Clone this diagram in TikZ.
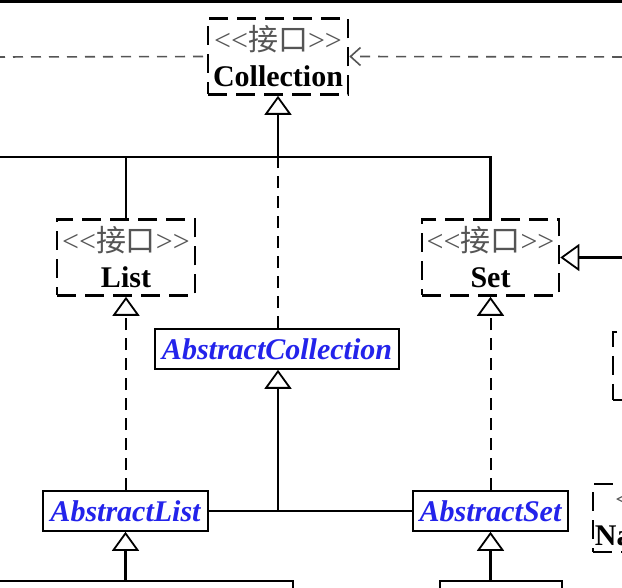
\documentclass[tikz,border=0pt]{standalone}
\usepackage{fontspec}
\setmainfont{Liberation Serif}
\newfontfamily\cjk{Noto Sans CJK SC}
\usetikzlibrary{arrows.meta}
\definecolor{absblue}{RGB}{35,35,235}
\definecolor{igray}{RGB}{85,85,85}
\newcommand{\ifacetext}[1]{{\color{igray}<\kern0pt<{\cjk 接口}>\kern0pt>}\\\textbf{#1}}
\begin{document}
\begin{tikzpicture}[x=1pt,y=-1pt,
  iface/.style={draw, line width=2.6pt, dash pattern=on 19pt off 9pt, align=center,
    font=\fontsize{30}{36}\selectfont, inner sep=0pt, minimum height=76pt},
  absbox/.style={draw, line width=1.6pt, font=\fontsize{30}{36}\selectfont\bfseries\itshape,
    text=absblue, inner sep=0pt, minimum height=40pt},
  solidc/.style={line width=2.6pt},
  gen/.style={-{Triangle[fill=white,length=19pt,width=27pt,line width=1.8pt]}},
  dashc/.style={line width=2pt, dash pattern=on 12pt off 8pt},
  thindash/.style={line width=1.6pt, draw=igray, dash pattern=on 10pt off 8pt},
]
\useasboundingbox (0,0) rectangle (622,588);
\clip (0,0) rectangle (622,588);
\fill[white] (0,0) rectangle (622,588);
% top frame line
\draw[line width=3.5pt] (-5,1.5) -- (630,1.5);

% nodes
\node[iface, minimum width=140pt] (coll) at (278,56.5) {\ifacetext{Collection}};
\node[iface, minimum width=138pt] (list) at (126,257.5) {\ifacetext{List}};
\node[iface, minimum width=137pt] (set) at (490.5,257.5) {\ifacetext{Set}};
\node[absbox, minimum width=244pt] (acoll) at (277,349) {AbstractCollection};
\node[absbox, minimum width=165pt] (alist) at (125.5,511) {AbstractList};
\node[absbox, minimum width=155pt] (aset) at (490.5,511) {AbstractSet};
\node[iface, minimum width=150pt, minimum height=68pt] (sset) at (688,366) {\ifacetext{SortedSet}};
\node[iface, minimum width=172pt, minimum height=66pt] (nset) at (679,518) {\ifacetext{NavigableSet}};

% coordinates
\coordinate (b0) at (-5,157);
\coordinate (bL) at (126,157);
\coordinate (bC) at (278,157);
\coordinate (bR) at (490.5,157);
\coordinate (dl) at (-5,57);
\coordinate (dr) at (640,57);
\coordinate (rs) at (640,257.5);
\coordinate (m) at (278,511);
\coordinate (lb) at (125.5,581);
\coordinate (lb0) at (-5,581);
\coordinate (lb1) at (293,581);
\coordinate (lb1d) at (293,600);
\coordinate (rb) at (490.5,581);
\coordinate (rb0) at (440,581);
\coordinate (rb0d) at (440,600);
\coordinate (rb1) at (562,581);
\coordinate (rb1d) at (562,600);

% connectors
\draw[thindash] (dl) -- (coll.west);
\draw[thindash, -{Straight Barb[length=10pt,width=18pt]}] (dr) -- (coll.east);
\draw[solidc] (b0) -- (bR) -- (set.north);
\draw[solidc] (bL) -- (list.north);
\draw[dashc] (acoll.north -| bC) -- (bC);
\draw[solidc, gen] (bC) -- (coll.south);
\draw[solidc, gen] (rs) -- (set.east);
\draw[dashc, gen] (list.south |- alist.north) -- (list.south);
\draw[dashc, gen] (aset.north) -- (set.south);
\draw[solidc] (alist.east) -- (aset.west);
\draw[solidc, gen] (m) -- (acoll.south -| m);
\draw[solidc] (lb0) -- (lb1) -- (lb1d);
\draw[solidc, gen] (lb) -- (alist.south);
\draw[solidc] (rb0d) -- (rb0) -- (rb1) -- (rb1d);
\draw[solidc, gen] (rb) -- (aset.south);
\end{tikzpicture}
\end{document}
